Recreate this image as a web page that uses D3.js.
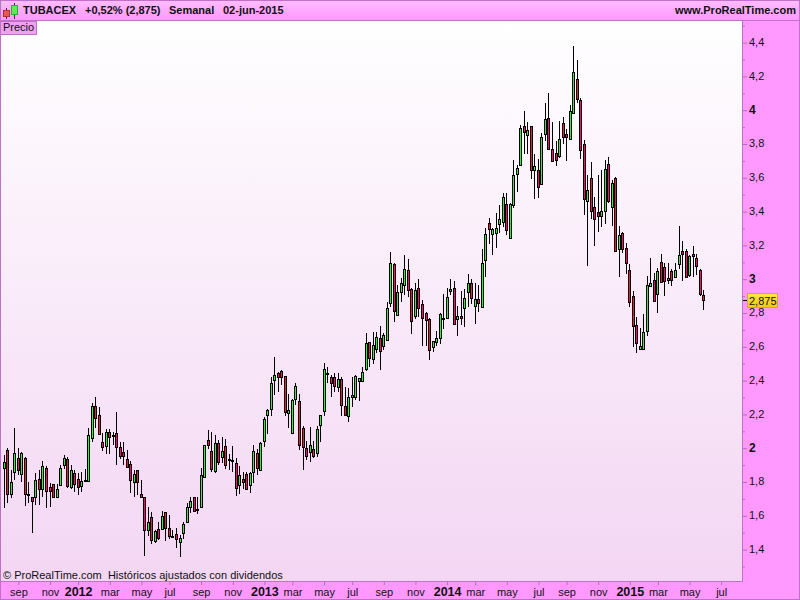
<!DOCTYPE html>
<html><head><meta charset="utf-8">
<script src="https://cdn.jsdelivr.net/npm/d3@7"></script>
<style>
html,body{margin:0;padding:0;background:#ff99ff;overflow:hidden}
svg{display:block}
text{font-family:"Liberation Sans",Arial,sans-serif;fill:#111}
</style></head><body><svg id="c" width="800" height="600"></svg>
<script>
const high=[1.960,1.999,1.871,2.118,1.999,1.979,1.950,1.802,1.713,1.851,
1.871,1.924,1.896,1.792,1.788,1.788,1.901,1.960,1.950,1.901,
1.871,1.851,1.861,1.875,2.118,2.266,2.305,2.246,2.088,2.112,
2.112,2.098,2.212,2.038,2.038,1.989,1.926,1.871,1.871,1.812,
1.710,1.650,1.624,1.516,1.565,1.630,1.624,1.605,1.516,1.526,
1.486,1.565,1.674,1.710,1.713,1.711,1.885,2.019,2.108,2.096,
2.078,2.049,2.066,2.055,1.966,2.013,1.942,1.895,1.859,1.859,
1.859,2.019,1.995,2.038,2.186,2.230,2.423,2.538,2.453,2.463,
2.427,2.321,2.289,2.384,2.319,2.131,2.043,2.124,2.043,2.131,
2.197,2.502,2.479,2.433,2.443,2.443,2.420,2.360,2.354,2.420,
2.433,2.414,2.482,2.682,2.631,2.689,2.686,2.723,2.680,2.863,
3.161,3.094,2.966,3.005,3.141,3.118,2.946,2.976,2.999,2.877,
2.804,2.769,2.636,2.692,2.798,2.912,2.946,2.999,2.989,2.841,
2.928,2.940,3.031,2.999,2.976,2.966,3.177,3.301,3.360,3.301,
3.390,3.439,3.508,3.508,3.449,3.705,3.676,3.912,3.995,3.928,
3.905,3.739,3.711,3.863,4.041,4.102,3.928,3.816,3.934,3.958,
3.887,4.031,4.380,4.297,4.070,3.824,3.617,3.693,3.485,3.617,
3.644,3.705,3.723,3.587,3.603,3.315,3.277,3.212,3.088,2.932,
2.778,2.713,2.792,3.019,3.123,3.035,3.064,3.147,3.094,3.094,
3.060,3.094,3.315,3.224,3.177,3.143,3.195,3.147,3.060,2.936];
const low=[1.645,1.674,1.704,1.812,1.841,1.802,1.660,1.674,1.497,1.664,
1.664,1.713,1.648,1.654,1.704,1.707,1.778,1.877,1.763,1.759,
1.743,1.723,1.743,1.802,1.802,2.038,2.118,2.078,1.983,1.964,
1.964,2.019,1.901,1.936,1.901,1.881,1.733,1.710,1.723,1.710,
1.364,1.482,1.433,1.441,1.457,1.516,1.453,1.461,1.467,1.408,
1.358,1.463,1.556,1.615,1.621,1.609,1.649,1.827,1.995,1.859,
1.853,1.901,1.912,1.877,1.871,1.859,1.717,1.729,1.759,1.753,
1.735,1.794,1.841,1.871,2.009,2.084,2.191,2.315,2.331,2.374,
2.191,2.120,2.090,2.256,1.989,1.871,1.930,1.920,1.942,1.946,
2.038,2.191,2.384,2.305,2.334,2.334,2.191,2.191,2.157,2.246,
2.285,2.281,2.393,2.459,2.482,2.498,2.561,2.463,2.581,2.637,
2.834,2.749,2.785,2.867,2.906,2.896,2.676,2.763,2.778,2.606,
2.606,2.522,2.571,2.606,2.615,2.705,2.768,2.906,2.733,2.664,
2.729,2.719,2.837,2.851,2.735,2.808,2.828,3.015,3.208,3.143,
3.183,3.272,3.310,3.261,3.240,3.423,3.516,3.673,3.741,3.741,
3.595,3.475,3.482,3.560,3.819,3.767,3.692,3.670,3.715,3.800,
3.701,3.827,3.980,4.041,3.713,3.380,3.078,3.356,3.198,3.281,
3.311,3.327,3.449,3.315,3.159,3.015,3.153,3.029,2.837,2.600,
2.565,2.581,2.584,2.664,2.952,2.863,2.802,2.981,2.901,2.970,
2.962,3.005,3.059,2.989,3.005,3.015,3.015,3.025,2.902,2.818];
const open=[1.881,1.987,1.728,1.857,1.940,1.846,1.940,1.728,1.710,1.710,
1.816,1.757,1.881,1.769,1.786,1.713,1.784,1.902,1.934,1.769,
1.851,1.816,1.778,1.810,1.804,2.062,2.250,2.195,2.035,2.015,
2.094,2.076,2.088,2.005,1.976,1.934,1.905,1.799,1.869,1.728,
1.710,1.518,1.591,1.449,1.520,1.520,1.620,1.526,1.480,1.491,
1.447,1.497,1.562,1.650,1.710,1.638,1.652,1.829,2.049,1.983,
1.865,2.031,1.948,2.013,1.936,1.930,1.912,1.782,1.818,1.847,
1.782,1.859,1.972,1.873,2.044,2.195,2.230,2.405,2.443,2.455,
2.425,2.207,2.092,2.289,2.277,2.118,1.999,1.979,1.993,1.973,
2.139,2.222,2.445,2.421,2.420,2.364,2.408,2.248,2.192,2.301,
2.301,2.399,2.399,2.469,2.627,2.530,2.589,2.650,2.607,2.638,
2.857,3.088,2.786,2.926,2.964,3.053,2.940,2.780,2.946,2.851,
2.798,2.763,2.600,2.630,2.650,2.772,2.769,2.928,2.946,2.763,
2.780,2.828,2.923,2.976,2.840,2.881,2.834,3.112,3.331,3.266,
3.272,3.325,3.340,3.443,3.244,3.439,3.624,3.674,3.905,3.851,
3.904,3.644,3.644,3.562,3.857,3.952,3.769,3.745,3.727,3.922,
3.857,3.828,3.981,4.183,4.058,3.798,3.461,3.597,3.425,3.396,
3.372,3.402,3.680,3.425,3.597,3.177,3.276,3.183,3.053,2.899,
2.727,2.589,2.585,2.692,2.962,2.994,2.911,3.100,3.070,2.994,
3.047,3.015,3.088,3.165,3.165,3.023,3.147,3.124,3.053,2.905];
const close=[1.916,1.728,1.799,1.970,1.871,1.970,1.728,1.725,1.690,1.810,
1.757,1.893,1.747,1.749,1.713,1.757,1.881,1.940,1.776,1.871,
1.788,1.772,1.804,1.808,2.076,2.250,2.177,2.082,2.009,2.094,
2.068,2.070,2.005,1.952,1.952,1.889,1.810,1.846,1.799,1.710,
1.514,1.562,1.455,1.508,1.470,1.597,1.526,1.479,1.479,1.461,
1.467,1.550,1.650,1.686,1.627,1.632,1.841,2.016,2.019,1.877,
2.031,1.918,1.983,1.901,1.933,1.927,1.764,1.841,1.800,1.759,
1.853,1.983,1.883,2.029,2.171,2.224,2.384,2.431,2.423,2.423,
2.216,2.224,2.288,2.366,2.021,2.009,1.956,2.017,1.956,2.112,
2.195,2.467,2.441,2.384,2.370,2.408,2.257,2.198,2.301,2.313,
2.425,2.413,2.449,2.621,2.532,2.609,2.656,2.577,2.668,2.828,
3.094,2.810,2.923,2.976,3.059,2.934,2.751,2.934,2.828,2.769,
2.757,2.583,2.632,2.650,2.797,2.769,2.893,2.940,2.735,2.780,
2.769,2.887,2.976,2.887,2.881,2.857,3.094,3.266,3.295,3.295,
3.301,3.354,3.485,3.293,3.443,3.615,3.656,3.893,3.869,3.881,
3.644,3.668,3.544,3.840,3.946,3.769,3.698,3.703,3.828,3.840,
3.840,3.993,4.224,4.064,3.763,3.473,3.526,3.402,3.354,3.372,
3.402,3.650,3.461,3.567,3.165,3.261,3.177,3.094,2.867,2.721,
2.624,2.603,2.686,2.964,2.976,2.873,3.047,2.982,2.988,3.005,
2.994,3.053,3.141,3.147,3.011,3.136,3.136,3.076,2.914,2.875];
const monthTickWeeks=[4,13,21,30,39,47,56,65,74,82,91,99,108,117,126,134,143,152,160,169,178,186,195,204];
const monthTickLabels=["sep","nov","2012","mar","may","jul","sep","nov","2013","mar","may","jul","sep","nov","2014","mar","may","jul","sep","nov","2015","mar","may","jul"];
const priceTicks=[1.4,1.6,1.8,2,2.2,2.4,2.6,2.8,3,3.2,3.4,3.6,3.8,4,4.2,4.4];
const minorTicks=[1.3,1.5,1.7,1.9,2.1,2.3,2.5,2.7,2.9,3.1,3.3,3.5,3.7,3.9,4.1,4.3,4.5];
const lastPrice=2.875;

const svg=d3.select("#c");
const plot={l:1,r:742,t:21,b:581};
const x=d3.scaleLinear().domain([0,199]).range([4.33,703.6]);
const y=d3.scaleLinear().domain([1.4,4.4]).range([549.6,42.6]);
const comma=v=>String(v).replace(".",",");

const defs=svg.append("defs");
const g1=defs.append("linearGradient").attr("id","pg").attr("x1",0).attr("y1",0).attr("x2",0).attr("y2",1);
g1.append("stop").attr("offset",0).attr("stop-color","#ffffff");
g1.append("stop").attr("offset",1).attr("stop-color","#f3d6f3");
const g2=defs.append("linearGradient").attr("id","hg").attr("x1",0).attr("y1",0).attr("x2",0).attr("y2",1);
g2.append("stop").attr("offset",0).attr("stop-color","#ffbdff");
g2.append("stop").attr("offset",1).attr("stop-color","#ff99ff");
const g3=defs.append("linearGradient").attr("id","yg").attr("x1",0).attr("y1",0).attr("x2",0).attr("y2",1);
g3.append("stop").attr("offset",0).attr("stop-color","#ffe84a");
g3.append("stop").attr("offset",1).attr("stop-color","#f8c800");

const frame="#c070c8";
svg.append("rect").attr("width",800).attr("height",600).attr("fill","#ff99ff");
svg.append("rect").attr("width",800).attr("height",20).attr("fill","url(#hg)");
svg.append("rect").attr("x",plot.l).attr("y",plot.t).attr("width",plot.r-plot.l).attr("height",plot.b-plot.t).attr("fill","url(#pg)");
svg.append("path").attr("fill","none").attr("stroke",frame)
  .attr("d",`M0.5,0V600M0,0.5H800M0,20.5H800M742.5,20V581M0,581.5H743M799.5,0V600M0,599.5H800`);

// x axis
const xAxis=d3.axisBottom(x).tickValues(monthTickWeeks).tickSize(4).tickPadding(3)
  .tickFormat((d,i)=>monthTickLabels[i]);
const gx=svg.append("g").attr("transform",`translate(0,${plot.b})`).call(xAxis);
gx.select(".domain").remove();
gx.selectAll(".tick line").attr("stroke","#b070b8");
gx.selectAll("text")
  .each(function(d,i){const yr=/^\d/.test(monthTickLabels[i]);
    d3.select(this).attr("font-size",yr?12.5:11).attr("font-weight",yr?"bold":"normal").attr("y",yr?6:7).attr("dy","0.71em");});

// y axes
const yMinor=d3.axisRight(y).tickValues(minorTicks).tickSize(3).tickFormat("");
const gm=svg.append("g").attr("transform",`translate(${plot.r},0)`).call(yMinor);
gm.select(".domain").remove();
gm.selectAll("line").attr("stroke","#b070b8");
const yAxis=d3.axisRight(y).tickValues(priceTicks).tickSize(5).tickPadding(2).tickFormat(comma);
const gy=svg.append("g").attr("transform",`translate(${plot.r},0)`).call(yAxis);
gy.select(".domain").remove();
gy.selectAll("line").attr("stroke","#b070b8");
gy.selectAll("text").attr("x",7).attr("dy","0.25em")
  .attr("font-size",d=>Number.isInteger(d)?12:11)
  .attr("font-weight",d=>Number.isInteger(d)?"bold":"normal");

// candles
const idx=d3.range(high.length);
const px=i=>Math.floor(x(i));
const cg=svg.append("g").attr("shape-rendering","crispEdges");
cg.selectAll("line").data(idx).join("line")
  .attr("x1",i=>px(i)+.5).attr("x2",i=>px(i)+.5)
  .attr("y1",i=>y(high[i])).attr("y2",i=>y(low[i]))
  .attr("stroke","#000");
cg.selectAll("rect").data(idx).join("rect")
  .attr("x",i=>px(i)-.5).attr("width",2)
  .attr("y",i=>Math.round(y(Math.max(open[i],close[i])))+.5)
  .attr("height",i=>Math.max(1,Math.round(y(Math.min(open[i],close[i])))-Math.round(y(Math.max(open[i],close[i])))))
  .attr("fill",i=>close[i]>open[i]?"#2ef52e":"#f0145a")
  .attr("stroke","#000");

// header
const hdr=[["TUBACEX",23],["+0,52% (2,875)",85],["Semanal",169],["02-jun-2015",223]];
svg.append("g").selectAll("text").data(hdr).join("text")
  .attr("x",d=>d[1]).attr("y",14).attr("font-size",11).attr("font-weight","bold").text(d=>d[0]);
svg.append("text").attr("x",796).attr("y",14).attr("text-anchor","end").attr("font-size",11).attr("font-weight","bold").text("www.ProRealTime.com");
// logo
svg.append("path").attr("d","M6.5,8V19M14.5,3V19").attr("stroke","#333");
svg.append("rect").attr("x",3.5).attr("y",10.5).attr("width",6).attr("height",6).attr("fill","#ee5555").attr("stroke","#aa3333");
svg.append("rect").attr("x",11.5).attr("y",5.5).attr("width",6).attr("height",9).attr("fill","#55ee55").attr("stroke","#33aa33");
// Precio tag
svg.append("rect").attr("x",0.5).attr("y",21.5).attr("width",36).attr("height",13).attr("fill","#f0a0f0").attr("stroke",frame);
svg.append("text").attr("x",3).attr("y",30.5).attr("font-size",11).text("Precio");
// footer
svg.append("text").attr("x",3).attr("y",579).attr("font-size",11).attr("xml:space","preserve").text("© ProRealTime.com  Históricos ajustados con dividendos");
// price tag
const py=y(lastPrice);
svg.append("line").attr("x1",743).attr("x2",747).attr("y1",Math.round(py)+.5).attr("y2",Math.round(py)+.5).attr("stroke","#000");
svg.append("rect").attr("x",747.5).attr("y",Math.round(py)-6.5).attr("width",30).attr("height",14).attr("fill","url(#yg)").attr("stroke","#d0a060");
svg.append("text").attr("x",749).attr("y",Math.round(py)+4.5).attr("font-size",11).text(comma(lastPrice));
</script></body></html>
